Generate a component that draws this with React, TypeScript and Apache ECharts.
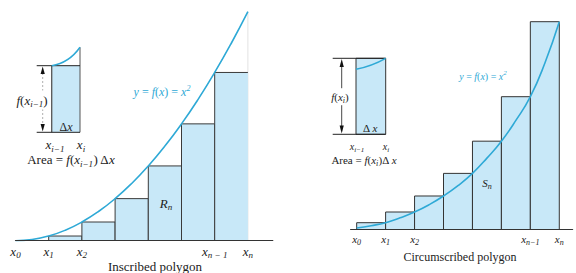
import React, { useEffect, useRef } from "react";
import * as echarts from "echarts";

// ---------- data ----------
const edges = [0, 1, 2, 3, 4, 5, 6, 7]; // x0 .. xn
const inscribedHeights = [0, 1, 4, 9, 16, 25, 36];
const circumscribedHeights = [1.56, 4.08, 7.86, 13.2, 20.8, 31.3, 49];
const leftCurveX = [0, 0.5, 1, 1.5, 2, 2.5, 3, 3.5, 4, 4.5, 5, 5.5, 6, 6.5, 7];
const leftCurveY = [0, 0.25, 1, 2.25, 4, 6.25, 9, 12.25, 16, 20.25, 25, 30.25, 36, 42.25, 49];
const rightCurveX = [0, 0.5, 1, 1.5, 2, 2.5, 3, 3.5, 4, 4.5, 5, 5.5, 6, 6.5, 7];
const rightCurveY = [0.3, 0.85, 1.56, 2.7, 4.08, 5.8, 7.86, 10.3, 13.2, 16.8, 20.8, 25.7, 31.3, 39.2, 49];
const tickValues = [0, 1, 2, 6, 7];
const leftTickSubs = ["0", "1", "2", "n − 1", "n"];
const rightTickSubs = ["0", "1", "2", "n−1", "n"];

const SERIF = "'Liberation Serif', 'DejaVu Serif', serif";
const FILL = "#c8e8f8";
const CURVE = "#2ea9d6";
const INK = "#222";

function mkRich(size: number, sub: number, color: string) {
  const base = { fontFamily: SERIF, fontSize: size, lineHeight: size + 4, fill: color, color };
  return {
    i: { ...base, fontStyle: "italic" },
    r: { ...base },
    s: { fontFamily: SERIF, fontStyle: "italic", fontSize: sub, lineHeight: sub, verticalAlign: "bottom", fill: color, color },
    p: { fontFamily: SERIF, fontStyle: "italic", fontSize: sub, lineHeight: sub, verticalAlign: "top", fill: color, color },
  };
}

function txt(x: number, y: number, text: string, size: number, sub: number, color = INK, extra: any = {}) {
  return {
    type: "text",
    x,
    y,
    z: 20,
    style: {
      text,
      rich: mkRich(size, sub, color),
      align: "center",
      verticalAlign: "middle",
      fill: color,
      fontFamily: SERIF,
      fontSize: size,
      ...extra,
    },
  };
}

function ln(x1: number, y1: number, x2: number, y2: number, stroke: string, lineWidth = 1, extra: any = {}) {
  return { type: "line", z: 10, shape: { x1, y1, x2, y2 }, style: { stroke, lineWidth, ...extra } };
}

function tri(points: number[][], color = "#111") {
  return { type: "polygon", z: 12, shape: { points }, style: { fill: color } };
}

function makeRectData(heights: number[], openLast: boolean) {
  return heights.map((h, i) => [edges[i], edges[i + 1], h, openLast && i === heights.length - 1 ? 1 : 0]);
}

function rectRenderer(stroke: string) {
  return (params: any, api: any) => {
    const xa = api.value(0);
    const xb = api.value(1);
    const h = api.value(2);
    const open = api.value(3) === 1;
    const children: any[] = [];
    const pb = api.coord([xa, 0]);
    const pt = api.coord([xb, h]);
    if (open) {
      const top = api.coord([xb, 49]);
      children.push({ type: "line", shape: { x1: pt[0], y1: pb[1], x2: pt[0], y2: top[1] }, style: { stroke: "#e2e2e2", lineWidth: 1 } });
    }
    if (h > 0) {
      children.push({
        type: "rect",
        shape: { x: pb[0], y: pt[1], width: pt[0] - pb[0], height: pb[1] - pt[1] },
        style: { fill: FILL },
      });
      const pts = open
        ? [[pb[0], pb[1]], [pb[0], pt[1]], [pt[0], pt[1]]]
        : [[pb[0], pb[1]], [pb[0], pt[1]], [pt[0], pt[1]], [pt[0], pb[1]]];
      children.push({ type: "polyline", shape: { points: pts }, style: { stroke, lineWidth: 1, fill: "none" } });
    }
    return { type: "group", children };
  };
}

function tickFormatter(subs: string[]) {
  return (v: number) => {
    const k = tickValues.indexOf(Math.round(v * 1000) / 1000);
    return k < 0 ? "" : `{i|x}{s|${subs[k]}}`;
  };
}

export default function App() {
  const ref = useRef<HTMLDivElement>(null);
  useEffect(() => {
    if (!ref.current) return;
    const chart = echarts.init(ref.current, null, { renderer: "svg" });

    const graphic: any[] = [
      // ----- left inset -----
      { type: "rect", z: 9, shape: { x: 51.7, y: 65.7, width: 28.3, height: 66.6 }, style: { fill: FILL } },
      ln(51.7, 65.7, 51.7, 132.3, "#555", 1.3),
      ln(80, 47.3, 80, 132.3, "#555", 1),
      ln(36.7, 65.7, 80, 65.7, INK, 1),
      ln(36.7, 132.3, 80, 132.3, INK, 1),
      { type: "bezierCurve", z: 11, shape: { x1: 51.7, y1: 65.7, x2: 80, y2: 47.3, cpx1: 69, cpy1: 63 }, style: { stroke: CURVE, lineWidth: 1.5, fill: "none" } },
      ln(42.7, 73, 42.7, 125, "#999", 0.8, { lineDash: [2, 2] }),
      tri([[42.7, 66.5], [40.6, 74], [44.8, 74]]),
      tri([[42.7, 131.5], [40.6, 124], [44.8, 124]]),
      txt(32, 100, "{i|f}{r|(}{i|x}{s|i−1}{r|)}", 13, 9, INK, { backgroundColor: "#fff", padding: [1, 1] }),
      txt(66, 127, "{r|Δ}{i|x}", 12, 8),
      txt(55, 144.5, "{i|x}{s|i−1}", 13, 9),
      txt(81, 144.5, "{i|x}{s|i}", 13, 9),
      txt(71, 159.5, "{r|Area = }{i|f}{r|(}{i|x}{s|i−1}{r|) Δ}{i|x}", 13, 9),
      // ----- right inset -----
      { type: "rect", z: 9, shape: { x: 356, y: 58.3, width: 29.7, height: 76 }, style: { fill: FILL, stroke: "#333", lineWidth: 1 } },
      ln(332.7, 58.3, 385.7, 58.3, INK, 1),
      ln(332.7, 134.3, 385.7, 134.3, INK, 1),
      { type: "bezierCurve", z: 11, shape: { x1: 356, y1: 69.3, x2: 385.7, y2: 58.3, cpx1: 372, cpy1: 66 }, style: { stroke: CURVE, lineWidth: 1.5, fill: "none" } },
      ln(341.7, 65, 341.7, 127, "#333", 0.9),
      tri([[341.7, 59], [339.6, 67], [343.8, 67]]),
      tri([[341.7, 133.6], [339.6, 125.6], [343.8, 125.6]]),
      txt(340, 96.7, "{i|f}{r|(}{i|x}{s|i}{r|)}", 11, 8, INK, { backgroundColor: "#fff", padding: [1, 0] }),
      txt(370, 127.7, "{r|Δ }{i|x}", 11, 8),
      txt(357, 146.8, "{i|x}{s|i−1}", 10, 7),
      txt(386, 146.8, "{i|x}{s|i}", 10, 7),
      txt(364, 159.5, "{r|Area = }{i|f}{r|(}{i|x}{s|i}{r|)Δ }{i|x}", 11, 8),
      // ----- annotations -----
      txt(162, 92, "{i|y}{r| = }{i|f}{r|(}{i|x}{r|) = }{i|x}{p|2}", 12, 8, CURVE),
      txt(483, 76, "{i|y}{r| = }{i|f}{r|(}{i|x}{r|) = }{i|x}{p|2}", 10, 7, CURVE),
      txt(166, 203, "{i|R}{s|n}", 13, 9),
      txt(487, 183, "{i|S}{s|n}", 11, 8),
      txt(155, 266, "{r|Inscribed polygon}", 13, 9),
      txt(460, 257, "{r|Circumscribed polygon}", 12, 8),
    ];

    const axisLabelCommon = (size: number, sub: number, subs: string[]) => ({
      customValues: tickValues,
      margin: 2,
      color: INK,
      fontFamily: SERIF,
      fontSize: size,
      formatter: tickFormatter(subs),
      rich: mkRich(size, sub, INK),
    });

    chart.setOption({
      animation: false,
      backgroundColor: "#fff",
      grid: [
        { left: 15.5, top: 11.7, width: 257.3, height: 229, outerBoundsMode: "none", containLabel: false },
        { left: 350.6, top: 21.7, width: 222, height: 207.6, outerBoundsMode: "none", containLabel: false },
      ],
      xAxis: [
        {
          type: "value",
          gridIndex: 0,
          min: 0,
          max: 7.75,
          z: 5,
          axisLine: { show: true, lineStyle: { color: "#333", width: 1.2 } },
          axisTick: { show: false },
          splitLine: { show: false },
          axisLabel: axisLabelCommon(13, 9, leftTickSubs),
        },
        {
          type: "value",
          gridIndex: 1,
          min: -0.21,
          max: 7.46,
          z: 5,
          axisLine: { show: true, lineStyle: { color: "#333", width: 1.2 } },
          axisTick: { show: false },
          splitLine: { show: false },
          axisLabel: axisLabelCommon(11, 8, rightTickSubs),
        },
      ],
      yAxis: [
        { type: "value", gridIndex: 0, min: 0, max: 49, show: false },
        { type: "value", gridIndex: 1, min: 0, max: 49, show: false },
      ],
      series: [
        {
          type: "custom",
          xAxisIndex: 0,
          yAxisIndex: 0,
          renderItem: rectRenderer("#3a3a3a"),
          encode: { x: [0, 1], y: 2 },
          data: makeRectData(inscribedHeights, true),
          z: 2,
        },
        {
          type: "line",
          xAxisIndex: 0,
          yAxisIndex: 0,
          data: leftCurveX.map((x, i) => [x, leftCurveY[i]]),
          smooth: true,
          showSymbol: false,
          symbol: "none",
          lineStyle: { color: CURVE, width: 1.6 },
          z: 4,
        },
        {
          type: "custom",
          xAxisIndex: 1,
          yAxisIndex: 1,
          renderItem: rectRenderer("#333"),
          encode: { x: [0, 1], y: 2 },
          data: makeRectData(circumscribedHeights, false),
          z: 2,
        },
        {
          type: "line",
          xAxisIndex: 1,
          yAxisIndex: 1,
          data: rightCurveX.map((x, i) => [x, rightCurveY[i]]),
          smooth: true,
          showSymbol: false,
          symbol: "none",
          lineStyle: { color: CURVE, width: 1.6 },
          z: 4,
        },
      ],
      graphic,
    });
    return () => chart.dispose();
  }, []);
  return (
    <div
      ref={ref}
      style={{ position: "fixed", left: 0, top: 0, width: 576, height: 273, background: "#fff" }}
    />
  );
}
